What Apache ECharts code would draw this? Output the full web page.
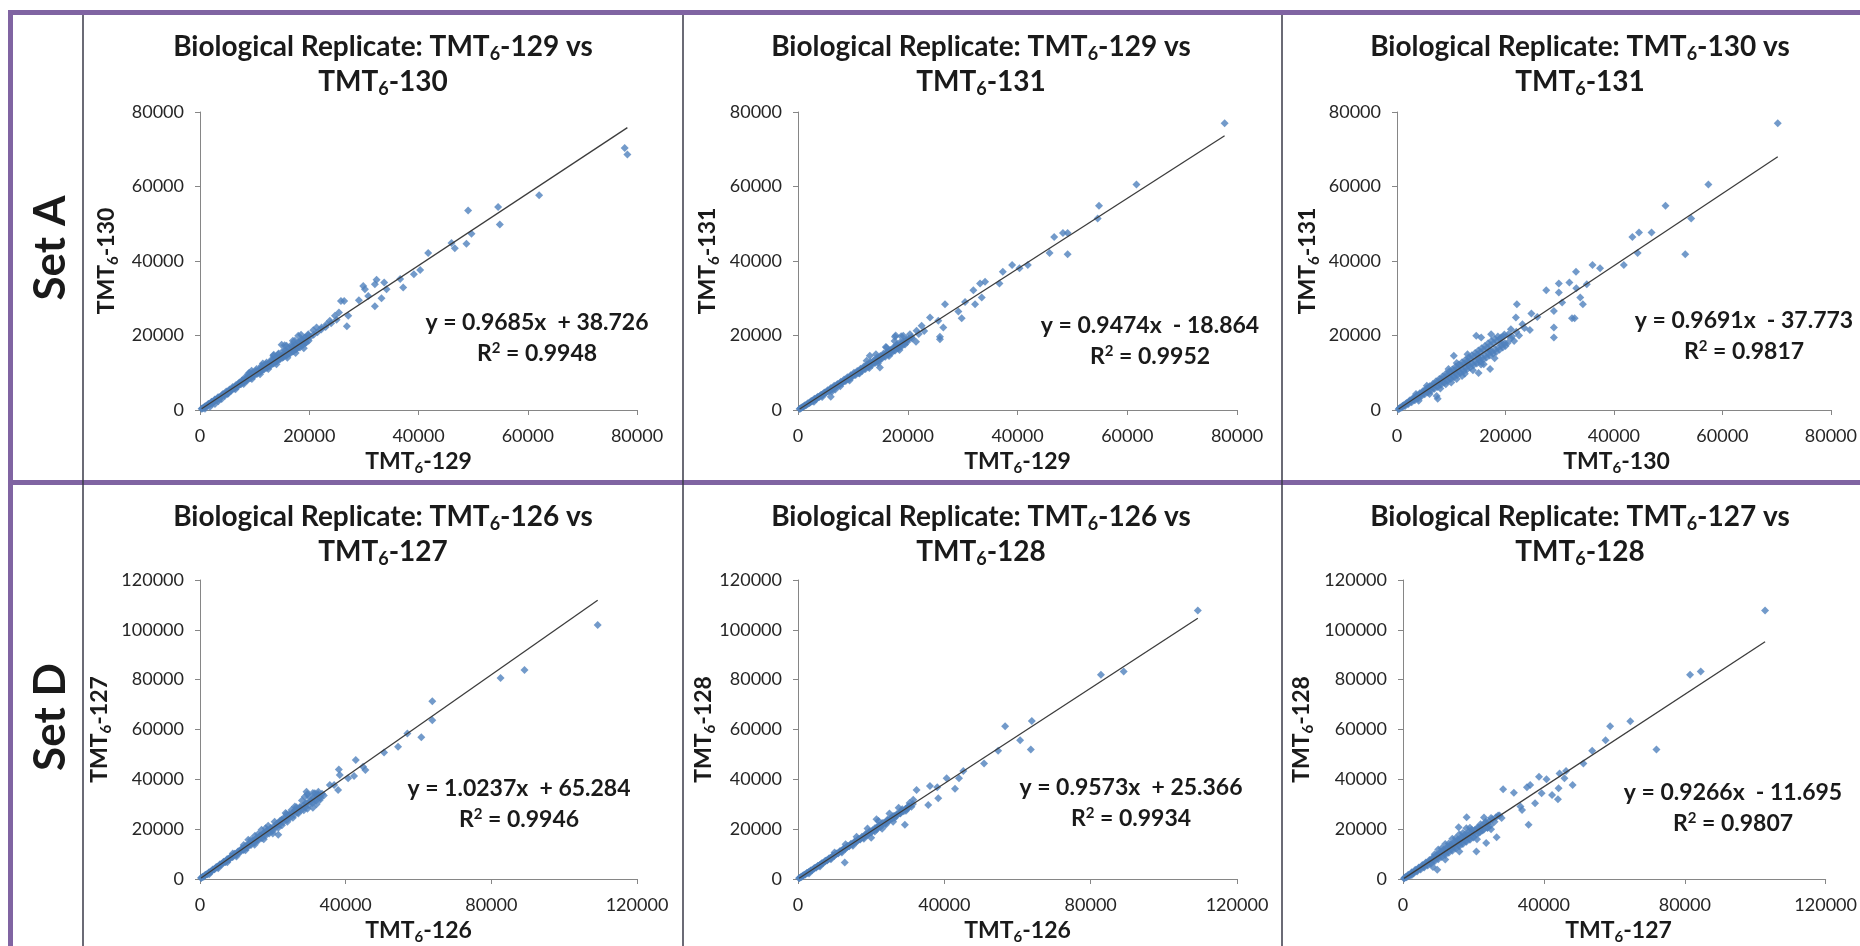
<!DOCTYPE html>
<html>
<head>
<meta charset="utf-8">
<script src="https://cdn.jsdelivr.net/npm/echarts@6/dist/echarts.min.js"></script>
<style>
  html, body { margin: 0; padding: 0; background: #ffffff; }
  #chart { width: 1860px; height: 946px; }
</style>
</head>
<body>
<div id="chart"></div>
<script>
// ---- Reporter-ion intensities, one [x, y] pair per peptide ----
const setA_129_130 = [
  [77750,70360],[78240,68570],[62080,57680],[49090,53570],[54580,54470],[54880,49820],[49700,47320],[48780,44640],
  [46040,44820],[46650,43390],[41770,42140],[40310,37590],[39150,36430],[36650,35180],[37200,32860],[32320,35000],
  [32010,33750],[33720,34200],[34150,32410],[29880,33300],[30190,32410],[30800,30630],[33230,30000],[32010,27860],
  [29090,29460],[26400,29290],[25800,29290],[27140,25270],[26890,22500],[25430,26160],[24700,25270],[23780,23930],
  [23170,23040],[22260,22140],[21340,22140],[20730,21430],[19820,20360],[19210,19460],[18480,18570],[17990,19910],
  [17380,18570],[16770,17500],[15850,17230],[14940,17500],[15250,15890],[14330,15000],[13420,14550],[13110,13210],
  [12200,12770],[11280,11880],[10370,10980],[9450,10540],[8840,9640],[8230,8750],[7620,7860],[7010,6960],
  [6400,6070],[5790,5360],[5180,4460],[4570,3840],[3960,2950],[3350,2320],[2740,1610],[1830,890],[915,360],
  [300,350],[600,520],[900,950],[1200,1050],[1500,1600],[1800,1550],[2100,2200],[2400,2050],[2700,2800],[3000,2700],
  [3300,3400],[3600,3300],[3900,3600],[4200,4300],[4500,4100],[4800,5000],[5100,4700],[5400,5500],[5700,5200],
  [6000,6200],[6300,5800],[6600,6700],[6900,6300],[7200,7400],[7500,6900],[7800,7900],[8100,7500],[8400,8500],
  [8700,8000],[9000,9300],[9300,8600],[9600,9900],[9900,9100],[10200,10500],[10500,9700],[10800,10900],[11100,10300],
  [11400,11600],[11700,10900],[12000,12300],[12300,11400],[12600,12700],[12900,11900],[13200,13700],[13500,12500],
  [13800,14000],[14100,13100],[14400,15200],[14700,13700],[15000,14600],[15300,14200],[15600,16000],[15900,14700],
  [16200,16500],[16500,15200],[16800,17000],[17100,15800],[17400,17600],[17700,16400],[18000,18200],[18300,16800],
  [18600,18900],[18900,17500],[19200,19300],[19500,18200],[19800,20100],[2200,1700],[3500,2900],[5000,4300],
  [6500,5600],[8000,7000],[9500,8300],[11000,9600],[12500,11000],[14000,12300],[16000,14000],[17500,15300],
  [19000,16600],[9000,10000],[11500,12500],[13500,14800],[15500,17400],[17000,18600],[18500,20200],
  [400,420],[700,640],[1000,1000],[1300,1200],[1600,1580],[1900,1800],[2200,2180],[2500,2350],[2800,2750],[3100,2900],
  [3400,3350],[3700,3500],[4000,3950],[4300,4100],[4600,4500],[4900,4650],[5200,5100],[5500,5250],[5800,5700],
  [6100,5800],[6400,6300],[6700,6350],[7000,6850],[7300,6900],[7600,7450],[7900,7500],[8200,8050],[8500,8000],
  [8800,8600],[9100,8600],[9400,9200],[9700,9200],[10000,9800],[10300,9700],[10600,10350],[10900,10300],[11200,11000],
  [11500,10800],[11800,11550],[12100,11300],[12400,12100],[12700,11900],[13000,12700],[13300,12500],[13600,13300],
  [13900,13000],[14200,13900],[14500,13600],[14800,14400],[15100,14000],[15400,15000],[15700,14600],[16000,15600],
  [16300,15200],[16600,16200],[16900,15700],[17200,16700],[17500,16300],[17800,17300],[18100,16900],[18400,17900],
  [18700,17500],[19000,18500],[19300,18000],[19600,19100],[19900,18600],[20200,19600],[20800,20200],[21500,20900],
  [22200,21600],[23000,22300],[24000,23300],[25000,24200]
];
const setA_129_131 = [
  [77740,76970],[61670,60540],[54850,54820],[54610,51430],[49130,47500],[48280,47500],[46690,46430],[45840,42140],
  [49130,41790],[41880,38930],[40360,38040],[39020,38930],[37320,37140],[36710,33930],[34090,34460],[33180,33930],
  [31960,32140],[32270,28390],[33480,30180],[30440,29020],[29830,24640],[29220,26430],[26790,28390],[25870,19640],
  [25870,19020],[26480,22140],[25570,23930],[24050,24820],[22530,22590],[21610,21250],[20400,20360],[19180,19910],
  [17660,19640],[19790,18570],[17960,17500],[16130,16790],[14920,11430],[13090,14550],[5970,3570],
  [300,250],[600,620],[900,800],[1200,1200],[1500,1350],[1800,1800],[2100,1900],[2400,2400],[2700,2450],[3000,3000],
  [3300,2900],[3600,3550],[3900,3500],[4200,4100],[4500,4000],[4800,4700],[5100,4600],[5400,5300],[5700,5100],
  [6000,5900],[6300,5600],[6600,6500],[6900,6200],[7200,7000],[7500,6700],[7800,7600],[8100,7300],[8400,8200],
  [8700,7800],[9000,8800],[9300,8300],[9600,9300],[9900,8900],[10200,10000],[10500,9400],[10800,10500],[11100,9900],
  [11400,11100],[11700,10500],[12000,11700],[12300,11000],[12600,12200],[12900,11600],[13200,12900],[13500,12100],
  [13800,13300],[14100,12700],[14400,14000],[14700,13200],[15000,14500],[15300,13800],[15600,15200],[15900,14300],
  [16200,15500],[16500,14900],[16800,16100],[17100,15400],[17400,16800],[17700,16000],[18000,17300],[18300,16500],
  [18600,18100],[18900,17100],[19200,18400],[19500,17600],[19800,19000],[2900,2200],[4400,3500],[6200,5000],
  [7700,6400],[9400,7900],[11200,9800],[13000,11300],[14600,12600],[16600,14500],[18500,16100],[12500,13200],
  [14200,15000],[16000,16900],[17600,18500],[18800,19800],[17800,20000],[20800,19200],[21500,18300],[6800,5500],
  [22000,20400],[23000,21200],
  [400,370],[700,650],[1000,930],[1300,1200],[1600,1500],[1900,1740],[2200,2070],[2500,2300],[2800,2640],[3100,2850],
  [3400,3200],[3700,3400],[4000,3780],[4300,3950],[4600,4350],[4900,4500],[5200,4920],[5500,5050],[5800,5480],
  [6100,5600],[6400,6050],[6700,6150],[7000,6620],[7300,6700],[7600,7180],[7900,7250],[8200,7750],[8500,7800],
  [8800,8320],[9100,8350],[9400,8880],[9700,8900],[10000,9460],[10300,9450],[10600,10020],[10900,10000],[11200,10600],
  [11500,10550],[11800,11170],[12100,11100],[12400,11730],[12700,11650],[13000,12300],[13300,12200],[13600,12870],
  [13900,12750],[14200,13440],[14500,13300],[14800,14000],[15100,13850],[15400,14580],[15700,14400],[16000,15150],
  [16300,14950],[16600,15700],[16900,15500],[17200,16280],[17500,16050],[17800,16850],[18100,16600],[18400,17400],
  [18700,17150],[19000,18000],[19300,17700],[19600,18550],[19900,18250],[20200,19100],[20700,19500]
];
const setA_130_131 = [
  [70200,76970],[57410,60540],[49500,54820],[54240,51430],[53150,41790],[46940,47680],[44620,47680],[43400,46430],
  [44370,42140],[41820,38930],[37440,38040],[36040,38930],[35000,33750],[33000,37140],[31780,34200],[29830,33930],
  [29830,31520],[33060,32680],[27520,32140],[30440,28840],[33790,30180],[34270,28390],[32750,24640],[32270,24640],
  [28920,26610],[28920,22140],[28920,19460],[24780,25890],[25870,25000],[22100,28390],[21920,24820],[23130,23040],
  [21000,21700],[19180,19460],[17350,20360],[14610,19910],[15520,19460],[15040,9910],[17170,10980],[10470,14550],
  [7310,3750],
  [300,200],[600,700],[900,650],[1200,1300],[1500,1100],[1800,1900],[2100,1600],[2400,2600],[2700,2100],[3000,3200],
  [3300,2600],[3600,3800],[3900,3100],[4200,4500],[4500,3700],[4800,5100],[5100,4200],[5400,5700],[5700,4700],
  [6000,6400],[6300,5200],[6600,7000],[6900,5700],[7200,7700],[7500,6200],[7800,8300],[8100,6800],[8400,9000],
  [8700,7300],[9000,9700],[9300,7800],[9600,10300],[9900,8300],[10200,10900],[10500,8800],[10800,11600],[11100,9400],
  [11400,12200],[11700,9900],[12000,12800],[12300,10400],[12600,13400],[12900,10900],[13200,14100],[13500,11400],
  [13800,14700],[14100,12000],[14400,15300],[14700,12500],[15000,16000],[15300,13000],[15600,16600],[15900,13500],
  [16200,17200],[16500,14100],[16800,17900],[17100,14600],[17400,18500],[17700,15100],[18000,19100],[18300,15600],
  [18600,19700],[18900,16200],[19200,18200],[19500,16800],[19800,20300],[20400,18000],[21000,19200],[21600,18500],
  [4000,2500],[6000,4300],[8000,5800],[10000,7400],[12000,9100],[14000,10700],[16000,12300],[18000,13900],
  [7500,3000],[11000,8300],[13000,12200],[15000,14000],[17000,16000],[3500,4300],[5500,6500],[9500,11000],
  [22000,21000],[23500,22000],[24500,21500],[20000,17200],[22500,20000],
  [400,380],[700,600],[1000,1050],[1300,1150],[1600,1650],[1900,1700],[2200,2250],[2500,2250],[2800,2900],[3100,2750],
  [3400,3450],[3700,3300],[4000,4050],[4300,3850],[4600,4650],[4900,4400],[5200,5250],[5500,4950],[5800,5850],
  [6100,5500],[6400,6450],[6700,6000],[7000,7050],[7300,6550],[7600,7650],[7900,7100],[8200,8250],[8500,7650],
  [8800,8850],[9100,8150],[9400,9450],[9700,8700],[10000,10050],[10300,9250],[10600,10650],[10900,9800],[11200,11250],
  [11500,10300],[11800,11900],[12100,10850],[12400,12500],[12700,11400],[13000,13100],[13300,11950],[13600,13700],
  [13900,12450],[14200,14300],[14500,13000],[14800,14900],[15100,13550],[15400,15500],[15700,14100],[16000,16100],
  [16300,14650],[16600,16700],[16900,15200],[17200,17300],[17500,15700],[17800,17900],[18100,16250],[18400,18500],
  [18700,16800],[19000,19100],[19300,17350],[19600,19700],[19900,17900],[20500,20300],[21200,19800],[11000,12600],
  [13000,15000],[9000,6900],[12500,9700],[15500,12200]
];
const setD_126_127 = [
  [109200,101970],[89100,83850],[82530,80650],[63790,71320],[63790,63720],[60780,56920],[56940,58390],[54380,53050],
  [50540,50790],[42770,47720],[44780,45060],[45420,43720],[42310,41320],[40670,40390],[38110,43990],[38380,41720],
  [36830,37720],[37930,35720],[35640,37720],[32900,31720],[31530,34390],[29240,35060],[28790,33060],[26050,29060],
  [25130,27730],[23760,26130],[21480,17730],[22390,23730],[18730,21330],[16910,19730],[15080,17330],[13250,15730],
  [300,400],[700,900],[1100,1000],[1500,1700],[2000,1900],[2500,2700],[3000,2900],[3500,3800],[4000,3900],[4500,4800],
  [5000,4900],[5500,5900],[6000,5800],[6500,6900],[7000,6800],[7500,8000],[8000,7800],[8500,9000],[9000,8800],
  [9500,10100],[10000,9700],[10500,11100],[11000,10700],[11500,12200],[12000,11600],[12500,13200],[13000,12600],
  [13500,14300],[14000,13600],[14500,15400],[15000,14500],[15500,16400],[16000,15500],[16500,17500],[17000,16400],
  [17500,18500],[18000,17400],[18500,19600],[19000,18300],[19500,20500],[20000,19300],[21000,22100],[21500,20600],
  [22000,23400],[22500,21600],[23000,24500],[24000,23000],[24500,26000],[25500,24600],[26000,27500],[27000,26300],
  [27500,29000],[28500,27600],[29000,30300],[29500,28200],[30000,33000],[30500,31000],[31000,34500],[31500,32000],
  [32000,30000],[32500,33500],[33000,32500],[29500,34000],[28000,31500],[26500,28800],[2500,1900],[5000,4300],
  [7500,6700],[10000,9000],[12500,11500],[15000,13700],[17500,16000],[20000,18300],[9000,10200],[12000,13600],
  [14000,15800],[16000,18100],[18000,20400],[20500,23000],[23500,26500],[31000,28600],[32500,35000],[33500,34200],
  [34000,33500],
  [400,480],[900,950],[1400,1500],[1900,1900],[2400,2520],[2900,2900],[3400,3560],[3900,3900],[4400,4600],[4900,4900],
  [5400,5640],[5900,5900],[6400,6680],[6900,6900],[7400,7720],[7900,7900],[8400,8760],[8900,8900],[9400,9800],
  [9900,9900],[10400,10850],[10900,10900],[11400,11900],[11900,11900],[12400,12950],[12900,12900],[13400,14000],
  [13900,13900],[14400,15050],[14900,14900],[15400,16100],[15900,15900],[16400,17150],[16900,16900],[17400,18200],
  [17900,17900],[18400,19250],[18900,18900],[19400,20300],[19900,19900],[20400,21300],[20900,20900],[21400,22400],
  [21900,21900],[22400,23400],[22900,22900],[23400,24500],[23900,23800],[24400,25400],[24900,24800],[25400,26500],
  [25900,25800],[26400,27400],[26900,26800],[27400,28500],[27900,27800],[28400,29500],[28900,28800],[29400,30500],
  [29900,29700],[30400,31500],[30900,30500],[31400,32800],[31900,31500],[32400,34000],[32900,33000]
];
const setD_126_128 = [
  [109290,107710],[89020,83310],[82810,81980],[63910,63450],[56610,61320],[60710,55720],[63640,51990],[54700,51460],
  [50860,46390],[45190,43320],[44010,40390],[42910,36260],[40630,40390],[38070,36790],[38340,32390],[36060,37320],
  [35610,29730],[32410,35720],[30130,29060],[29220,21730],[21460,23990],[12780,6670],
  [300,350],[700,700],[1100,1000],[1500,1500],[2000,1800],[2500,2500],[3000,2800],[3500,3400],[4000,3700],[4500,4400],
  [5000,4600],[5500,5300],[6000,5600],[6500,6300],[7000,6500],[7500,7300],[8000,7500],[8500,8300],[9000,8400],
  [9500,9300],[10000,9300],[10500,10200],[11000,10300],[11500,11200],[12000,11200],[12500,12200],[13000,12100],
  [13500,13200],[14000,13100],[14500,14100],[15000,14000],[15500,15100],[16000,14900],[16500,16100],[17000,15900],
  [17500,17000],[18000,16800],[18500,18100],[19000,17700],[19500,19000],[20000,18700],[21000,20400],[21500,19900],
  [22000,21500],[22500,20900],[23000,22500],[24000,22400],[24500,23900],[25000,23500],[26000,25300],[26500,24600],
  [27000,26000],[28000,26400],[28500,28000],[29500,27400],[30000,28800],[31000,29000],[3000,2200],[6000,5000],
  [9000,7900],[12000,10600],[15000,13300],[18000,16200],[21000,19100],[24000,21800],[10000,10600],[13000,13900],
  [16000,17000],[19000,20300],[22000,23300],[25000,26300],[27500,28600],[20000,16600],[23000,20200],[26000,23000],
  [30500,30500],[31500,31800],
  [400,420],[900,840],[1400,1380],[1900,1780],[2400,2330],[2900,2720],[3400,3280],[3900,3660],[4400,4230],[4900,4600],
  [5400,5190],[5900,5550],[6400,6150],[6900,6500],[7400,7110],[7900,7430],[8400,8070],[8900,8380],[9400,9030],
  [9900,9320],[10400,9990],[10900,10270],[11400,10950],[11900,11200],[12400,11900],[12900,12150],[13400,12860],
  [13900,13100],[14400,13810],[14900,14030],[15400,14770],[15900,14980],[16400,15730],[16900,15920],[17400,16680],
  [17900,16860],[18400,17640],[18900,17800],[19400,18600],[19900,18750],[20400,19550],[20900,19700],[21400,20510],
  [21900,20620],[22400,21470],[22900,21570],[23400,22430],[23900,22500],[24400,23380],[24900,23460],[25400,24340],
  [25900,24400],[26400,25300],[26900,25340],[27400,26250],[27900,26280],[28400,27200],[28900,27230],[29400,28160],
  [29900,28160],[30400,29100],[31400,30100]
];
const setD_127_128 = [
  [102790,107710],[84540,83310],[81490,81980],[64540,63320],[58800,61320],[57500,55720],[53710,51460],[51210,46390],
  [71950,51990],[46300,43320],[44450,42390],[45840,40390],[48150,37720],[44170,36390],[42320,33730],[43990,31990],
  [40740,39990],[38610,41060],[36110,37720],[35190,36790],[39360,34390],[37500,30390],[33340,29060],[33800,27730],
  [31480,34660],[28430,35990],[35650,21730],[26580,16800],[23610,14400],[20840,11060],[18060,24790],[9720,3730],
  [300,250],[700,800],[1100,800],[1500,1700],[2000,1500],[2500,2700],[3000,2300],[3500,3700],[4000,3000],[4500,4600],
  [5000,3800],[5500,5600],[6000,4600],[6500,6600],[7000,5400],[7500,7600],[8000,6200],[8500,8600],[9000,7100],
  [9500,9600],[10000,7900],[10500,10700],[11000,8800],[11500,11700],[12000,9600],[12500,12700],[13000,10500],
  [13500,13800],[14000,11300],[14500,14800],[15000,12200],[15500,15800],[16000,13100],[16500,16800],[17000,14000],
  [17500,17800],[18000,14900],[18500,18800],[19000,15800],[19500,19800],[20000,16700],[21000,20500],[21500,18500],
  [22000,22000],[22500,19500],[23500,23000],[24000,20500],[25000,24500],[26000,23000],[27000,25500],[28000,24500],
  [2500,1600],[4000,3600],[6000,5500],[8000,7500],[10000,9300],[12000,11000],[14000,13000],[16000,14800],
  [18000,16600],[20000,18400],[22000,20300],[24000,22000],[9000,9900],[11000,12300],[13000,14200],[15000,16500],
  [17000,18500],[19000,20600],[8500,4800],[12000,7800],[16000,11000],[21000,16000],[25000,20000],[23000,24700],
  [15800,20800],
  [400,420],[900,700],[1400,1450],[1900,1550],[2400,2400],[2900,2450],[3400,3350],[3900,3300],[4400,4300],[4900,4200],
  [5400,5250],[5900,5050],[6400,6200],[6900,5900],[7400,7150],[7900,6800],[8400,8100],[8900,7700],[9400,9100],
  [9900,8500],[10400,10050],[10900,9400],[11400,11000],[11900,10250],[12400,11950],[12900,11100],[13400,12900],
  [13900,12000],[14400,13850],[14900,12850],[15400,14800],[15900,13700],[16400,15800],[16900,14600],[17400,16750],
  [17900,15400],[18400,17700],[18900,16300],[19400,18650],[19900,17200],[20400,19650],[20900,18000],[21400,20600],
  [21900,18900],[22400,21500],[22900,19800],[23400,22500],[23900,20700],[24400,23200],[24900,21600],[25400,24000],
  [26400,24800],[27400,25500],[12000,14000],[14000,16200],[16000,18000],[18000,20400],[10000,11800]
];

// ---- Linear fits (y = slope * x + intercept) and their R² ----
const fitSlope     = [0.9685, 0.9474, 0.9691, 1.0237, 0.9573, 0.9266];
const fitIntercept = [38.726, -18.864, -37.773, 65.284, 25.366, -11.695];
const fitR2        = [0.9948, 0.9952, 0.9817, 0.9946, 0.9934, 0.9807];

// ---- Channel labels per panel ----
const xChannel = ['129', '129', '130', '126', '126', '127'];
const yChannel = ['130', '131', '131', '127', '128', '128'];
const setNames = ['Set A', 'Set D'];

// ---- Axis ticks ----
const ticksSetA  = [0, 20000, 40000, 60000, 80000];
const ticksSetDX = [0, 40000, 80000, 120000];
const ticksSetDY = [0, 20000, 40000, 60000, 80000, 100000, 120000];

const panelData = [setA_129_130, setA_129_131, setA_130_131, setD_126_127, setD_126_128, setD_127_128];

// Plot rectangles, title centres, axis-name and equation anchors
const plots = [
  { left: 200,  top: 112, width: 437, height: 298 },
  { left: 798,  top: 112, width: 439, height: 298 },
  { left: 1397, top: 112, width: 439, height: 298 },
  { left: 200,  top: 580, width: 437, height: 299 },
  { left: 798,  top: 580, width: 439, height: 299 },
  { left: 1403, top: 580, width: 431, height: 299 }
];
const titleX = [383, 981, 1580, 383, 981, 1580];
const titleY = [47, 47, 47, 517, 517, 517];
const yNameX = [107, 708, 1308, 100, 704, 1302];
const eqPos  = [[537, 323], [1150, 326], [1744, 321], [519, 789], [1131, 788], [1733, 793]];

const FONT = 'Lato';
const TEXT = '#1a1a1a';
const BLUE = '#4F81BD';
const PURPLE = '#8064A2';

const richBase = (size) => ({
  s: { fontFamily: FONT, fontWeight: 'bold', fontSize: Math.round(size * 0.64), fill: TEXT, padding: [Math.round(size * 0.55), 0, 0, 0] },
  p: { fontFamily: FONT, fontWeight: 'bold', fontSize: Math.round(size * 0.64), fill: TEXT, padding: [0, 0, Math.round(size * 0.5), 0] }
});

function textEl(x, y, text, size, extra) {
  return Object.assign({
    type: 'text', x: x, y: y, silent: true,
    style: {
      text: text, fontFamily: FONT, fontWeight: 'bold', fontSize: size, fill: TEXT,
      align: 'center', verticalAlign: 'middle', rich: richBase(size)
    }
  }, extra || {});
}

const grid = [], xAxis = [], yAxis = [], series = [], graphic = [];

panelData.forEach((pts, i) => {
  const top = i < 3;
  const p = plots[i];
  grid.push({ left: p.left, top: p.top, width: p.width, height: p.height, containLabel: false });

  const xt = top ? ticksSetA : ticksSetDX;
  const yt = top ? ticksSetA : ticksSetDY;
  const axisCommon = {
    type: 'value', gridIndex: i,
    axisLine: { show: true, onZero: false, lineStyle: { color: '#868686', width: 1 } },
    axisTick: { show: true, length: 5, lineStyle: { color: '#868686', width: 1 } },
    splitLine: { show: false },
    axisLabel: { color: '#262626', fontFamily: FONT, fontSize: 18, formatter: (v) => String(v) }
  };
  xAxis.push(Object.assign({}, axisCommon, {
    min: xt[0], max: xt[xt.length - 1], interval: xt[1] - xt[0],
    axisLabel: Object.assign({}, axisCommon.axisLabel, { margin: 17 })
  }));
  yAxis.push(Object.assign({}, axisCommon, {
    min: yt[0], max: yt[yt.length - 1], interval: yt[1] - yt[0],
    axisLabel: Object.assign({}, axisCommon.axisLabel, { margin: 16 })
  }));

  series.push({
    type: 'scatter', xAxisIndex: i, yAxisIndex: i, data: pts,
    symbol: 'diamond', symbolSize: [8, 8],
    itemStyle: { color: BLUE }, silent: true, z: 2
  });

  // Linear trendline over the x-range of the data
  const xs = pts.map(d => d[0]);
  const x0 = Math.min.apply(null, xs), x1 = Math.max.apply(null, xs);
  const a = fitSlope[i], b = fitIntercept[i];
  series.push({
    type: 'line', xAxisIndex: i, yAxisIndex: i,
    data: [[x0, a * x0 + b], [x1, a * x1 + b]],
    showSymbol: false, symbol: 'none', silent: true, z: 3,
    lineStyle: { color: '#3c3c3c', width: 1.3 }
  });

  // Titles (two lines)
  graphic.push(textEl(titleX[i], titleY[i], 'Biological Replicate: TMT{s|6}-' + xChannel[i] + ' vs', 28));
  graphic.push(textEl(titleX[i], titleY[i] + 35, 'TMT{s|6}-' + yChannel[i], 28));

  // Axis names
  graphic.push(textEl(p.left + p.width / 2, p.top + p.height + 52, 'TMT{s|6}-' + xChannel[i], 23));
  graphic.push(textEl(yNameX[i], p.top + p.height / 2, 'TMT{s|6}-' + yChannel[i], 23, { rotation: Math.PI / 2 }));

  // Fit equation and R²
  const sign = b >= 0 ? '+' : '-';
  const eq = 'y = ' + a.toFixed(4) + 'x  ' + sign + ' ' + Math.abs(b).toFixed(3);
  graphic.push(textEl(eqPos[i][0], eqPos[i][1], eq, 23));
  graphic.push(textEl(eqPos[i][0], eqPos[i][1] + 31, 'R{p|2} = ' + fitR2[i].toFixed(4), 23));
});

// Frame: purple rules and panel dividers
graphic.push({ type: 'rect', silent: true, shape: { x: 8, y: 10, width: 1860, height: 5 }, style: { fill: PURPLE } });
graphic.push({ type: 'rect', silent: true, shape: { x: 8, y: 480, width: 1860, height: 5 }, style: { fill: PURPLE } });
graphic.push({ type: 'rect', silent: true, shape: { x: 8, y: 10, width: 5, height: 946 }, style: { fill: PURPLE } });
[83, 683, 1282].forEach(x => {
  graphic.push({ type: 'line', silent: true, shape: { x1: x, y1: 15, x2: x, y2: 946 }, style: { stroke: '#3a3a48', lineWidth: 1.5 } });
});

// Row labels
graphic.push(textEl(51, 248, setNames[0], 44, { rotation: Math.PI / 2 }));
graphic.push(textEl(51, 717, setNames[1], 44, { rotation: Math.PI / 2 }));

const chart = echarts.init(document.getElementById('chart'), null, { renderer: 'canvas' });
chart.setOption({
  backgroundColor: '#ffffff',
  animation: false,
  grid: grid, xAxis: xAxis, yAxis: yAxis, series: series, graphic: graphic
});
</script>
</body>
</html>
